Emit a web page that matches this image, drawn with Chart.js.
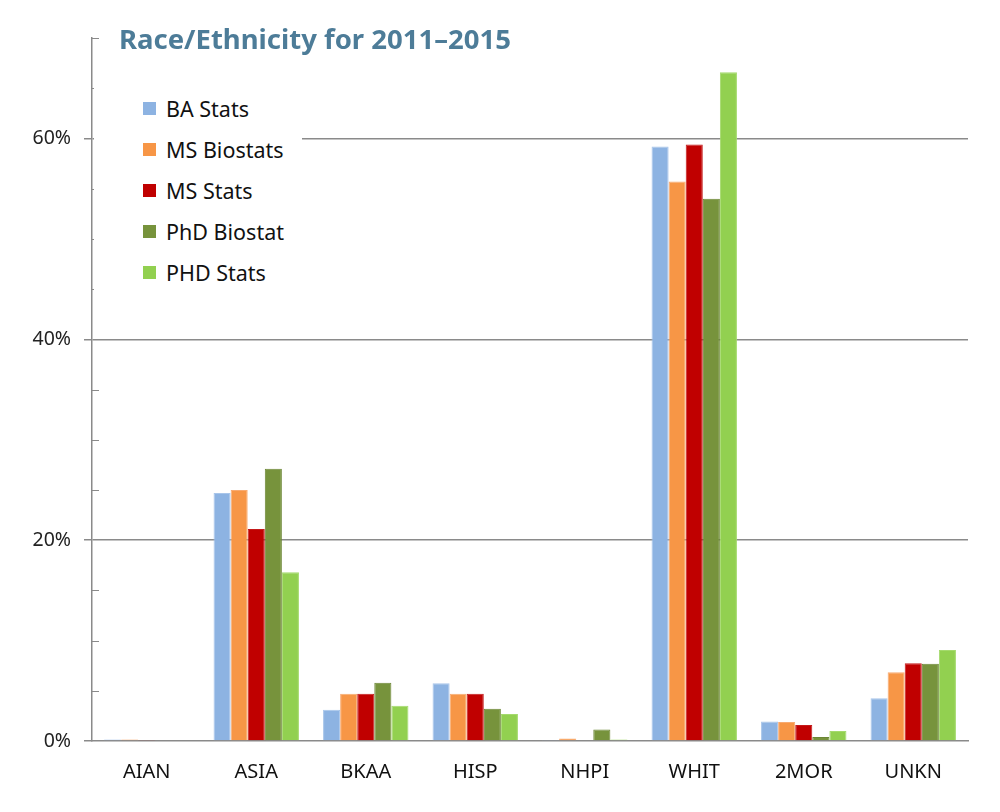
<!DOCTYPE html>
<html>
<head>
<meta charset="utf-8">
<script src="https://cdn.jsdelivr.net/npm/chart.js@4"></script>
<style>
    body { margin: 0; background: #fff; }
    #wrap { position: relative; width: 1000px; height: 812px; }
    #title {
        position: absolute; left: 119px; top: 20px;
        font-family: "Noto Sans", sans-serif; font-weight: 700; font-size: 27.5px;
        color: #4d7c98; white-space: nowrap;
    }
    #legend {
        position: absolute; left: 94px; top: 86px; width: 208px; height: 208px;
        background: #fff; font-family: "Noto Sans", sans-serif; font-size: 21.5px; color: #111;
    }
    .item { position: absolute; left: 72px; height: 26px; line-height: 26px; white-space: nowrap; }
    .swatch { position: absolute; left: -23px; top: 6px; width: 13px; height: 13px; }
</style>
</head>
<body>
<div id="wrap">
    <canvas id="chart" width="1000" height="812"></canvas>
    <div id="title">Race/Ethnicity for 2011–2015</div>
    <div id="legend"></div>
</div>
<script>
const categories = ['AIAN', 'ASIA', 'BKAA', 'HISP', 'NHPI', 'WHIT', '2MOR', 'UNKN'];
const seriesNames = ['BA Stats', 'MS Biostats', 'MS Stats', 'PhD Biostat', 'PHD Stats'];
const baStats = [0.15, 24.7, 3.1, 5.75, 0.1, 59.2, 1.95, 4.25];
const msBiostats = [0.15, 25.0, 4.7, 4.7, 0.25, 55.7, 1.9, 6.85];
const msStats = [0.1, 21.1, 4.7, 4.7, 0, 59.4, 1.6, 7.75];
const phdBiostat = [0, 27.1, 5.8, 3.2, 1.15, 54.0, 0.4, 7.7];
const phdStats = [0, 16.8, 3.5, 2.7, 0.15, 66.6, 1.0, 9.05];
const yTicks = [0, 20, 40, 60];

const fills = ['#8db3e2', '#f79646', '#c00000', '#77933c', '#92d050'];
const borders = ['#a8c5ea', '#f8aa70', '#c41a1a', '#6b8635', '#a4da6c'];
const axisColor = '#8a8a8a';

const allSeries = [baStats, msBiostats, msStats, phdBiostat, phdStats];

// Legend (HTML so it can sit inside the plot like the original)
const legendEl = document.getElementById('legend');
seriesNames.forEach((name, i) => {
    const div = document.createElement('div');
    div.className = 'item';
    div.style.top = (10 + i * 41) + 'px';
    div.innerHTML = '<span class="swatch" style="background:' + fills[i] + '"></span>' + name;
    legendEl.appendChild(div);
});

// minor ticks point inward, majors outward
const minorTicks = {
    id: 'minorTicks',
    afterDraw(chart) {
        const y = chart.scales.y;
        const ctx = chart.ctx;
        const left = chart.chartArea.left;
        ctx.save();
        ctx.strokeStyle = axisColor;
        ctx.lineWidth = 1;
        for (let v = 5; v <= 70; v += 5) {
            if (yTicks.includes(v)) continue;
            const py = Math.round(y.getPixelForValue(v)) + 0.5;
            ctx.beginPath();
            ctx.moveTo(left, py);
            ctx.lineTo(left + 7, py);
            ctx.stroke();
        }
        ctx.restore();
    }
};

new Chart(document.getElementById('chart'), {
    type: 'bar',
    data: {
        labels: categories,
        datasets: allSeries.map((vals, i) => ({
            label: seriesNames[i],
            data: vals,
            backgroundColor: fills[i],
            borderColor: borders[i],
            borderWidth: 1,
            categoryPercentage: 0.78,
            barPercentage: 1.0
        }))
    },
    options: {
        responsive: false,
        devicePixelRatio: 1,
        animation: false,
        layout: { padding: { top: 38, right: 32, left: 0, bottom: 0 } },
        plugins: {
            legend: { display: false },
            title: { display: false },
            tooltip: { enabled: false }
        },
        scales: {
            x: {
                grid: { display: false, drawTicks: false },
                border: { color: axisColor, width: 1.5 },
                ticks: {
                    color: '#111',
                    padding: 19,
                    font: { family: 'Noto Sans', size: 20 }
                },
                afterFit: s => { s.height = 71; }
            },
            y: {
                min: 0,
                max: 70,
                ticks: {
                    stepSize: 5,
                    autoSkip: false,
                    color: '#222',
                    padding: 13,
                    font: { family: 'Noto Sans', size: 19.5 },
                    callback: v => yTicks.includes(v) ? v + '%' : ''
                },
                grid: {
                    color: ctx => (ctx.tick && yTicks.includes(ctx.tick.value) && ctx.tick.value !== 0) ? axisColor : 'rgba(0,0,0,0)',
                    tickColor: ctx => (ctx.tick && yTicks.includes(ctx.tick.value)) ? axisColor : 'rgba(0,0,0,0)',
                    lineWidth: 1.5,
                    tickLength: 8
                },
                border: { color: axisColor, width: 1.5 },
                afterFit: s => { s.width = 92; }
            }
        }
    },
    plugins: [minorTicks]
});
</script>
</body>
</html>
